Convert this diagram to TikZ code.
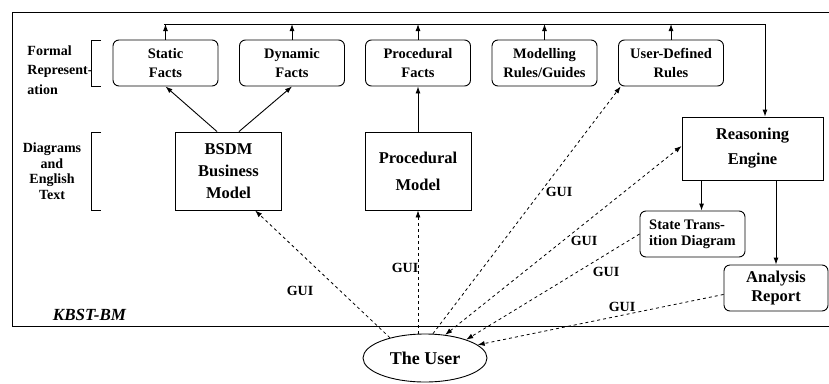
\documentclass[tikz,border=0pt]{standalone}
\usepackage{fontspec}
\setmainfont{Liberation Serif}
\usetikzlibrary{arrows.meta,shapes.geometric,calc}
\newcommand\setfs[2]{\fontsize{#1}{#2}\selectfont}
\begin{document}
\begin{tikzpicture}[x=1pt,y=-1pt,line width=0.9pt,
  >={Latex[length=7pt,width=5pt]},
  fact/.style={draw,rounded corners=6pt,minimum width=105pt,minimum height=46pt,
    inner sep=0pt,align=center,font=\setfs{14.5}{19}\bfseries},
  model/.style={draw,minimum width=106pt,minimum height=78pt,inner sep=0pt,
    align=center,font=\setfs{16.5}{22}\bfseries},
  side/.style={inner sep=0pt,font=\setfs{14}{15.5}\bfseries},
  gui/.style={inner sep=0pt,font=\setfs{14}{14}\bfseries},
  uilink/.style={dash pattern=on 3pt off 3pt,line width=0.8pt},
]
\useasboundingbox (0,0) rectangle (829,383);

% system frame (its right side runs past the page edge)
\draw (12,12) rectangle (845,326);
\node[inner sep=0pt,font=\setfs{17}{17}\bfseries\itshape] (kb) at (89.5,315) {KBST-BM};

% formal representation layer
\node[fact] (sf) at (165.5,63) {Static\\Facts};
\node[fact] (df) at (292,63) {Dynamic\\Facts};
\node[fact] (pf) at (418,63) {Procedural\\Facts};
\node[fact] (mr) at (544.5,63) {Modelling\\Rules/Guides};
\node[fact] (ud) at (671,63) {User-Defined\\Rules};

% diagram layer
\node[model] (bm) at (228.5,171) {BSDM\\Business\\Model};
\node[model] (pm) at (418,171) {Procedural\\[5pt]Model};

% reasoning and its outputs
\node[draw,minimum width=141pt,minimum height=63pt,inner sep=0pt,align=center,
  font=\setfs{16.5}{25}\bfseries] (re) at (752.5,148.5) {Reasoning\\Engine};
\node[fact,align=left,font=\setfs{14.5}{16}\bfseries] (st) at (692.5,234) {State Trans-\\ition Diagram};
\node[fact,minimum width=104pt,font=\setfs{16.5}{19}\bfseries] (ar) at (776,288) {Analysis\\Report};

% the user
\node[draw,ellipse,minimum width=124pt,minimum height=48pt,inner sep=0pt,
  font=\setfs{18}{18}\bfseries] (us) at (425,358) {The User};

% layer labels and brackets
\node[side,align=left,font=\setfs{14}{19.5}\bfseries,anchor=west] (fr) at (27,70) {Formal\\Represent-\\ation};
\node[side,align=center] (de) at (52,171) {Diagrams\\and\\English\\Text};
\draw (101,40) -- (91,40) -- (91,86) -- (101,86);
\draw (101,132) -- (91,132) -- (91,210) -- (101,210);

% collecting bus into the reasoning engine
\coordinate (busL) at (164,24);
\coordinate (busR) at (765,24);
\draw[->] (busL) -- (busR) -- (busR |- re.north);
\foreach \n in {sf,df,pf,mr,ud}
  \draw[->] (\n.north) -- (\n.north |- busL);

% model to facts
\draw[->] ($(bm.north)+(-11.5,0)$) -- (sf.south);
\draw[->] ($(bm.north)+(10.5,0)$) -- (df.south);
\draw[->] (pm.north) -- (pf.south);

% engine outputs
\draw[->] ($(re.south west)+(20,0)$) coordinate (a1) -- (a1 |- st.north);
\draw[->] (ar.north |- re.south) -- (ar.north);

% GUI links
\draw[uilink,->] (us.150) -- (bm.-56);
\draw[uilink,->] (pm.south |- us.north) -- (pm.south);
\draw[uilink,->] (us.72) -- (ud.205);
\draw[uilink,<->] (us.49) -- (re.178);
\draw[uilink,->] (st.west) -- (us.24);
\draw[uilink,->] (ar.187) -- (us.14);

\node[gui] (g1) at (300,291) {GUI};
\node[gui] (g2) at (405,268) {GUI};
\node[gui] (g3) at (559,192) {GUI};
\node[gui] (g4) at (584,241) {GUI};
\node[gui] (g5) at (606,272) {GUI};
\node[gui] (g6) at (622,307) {GUI};
\end{tikzpicture}
\end{document}
